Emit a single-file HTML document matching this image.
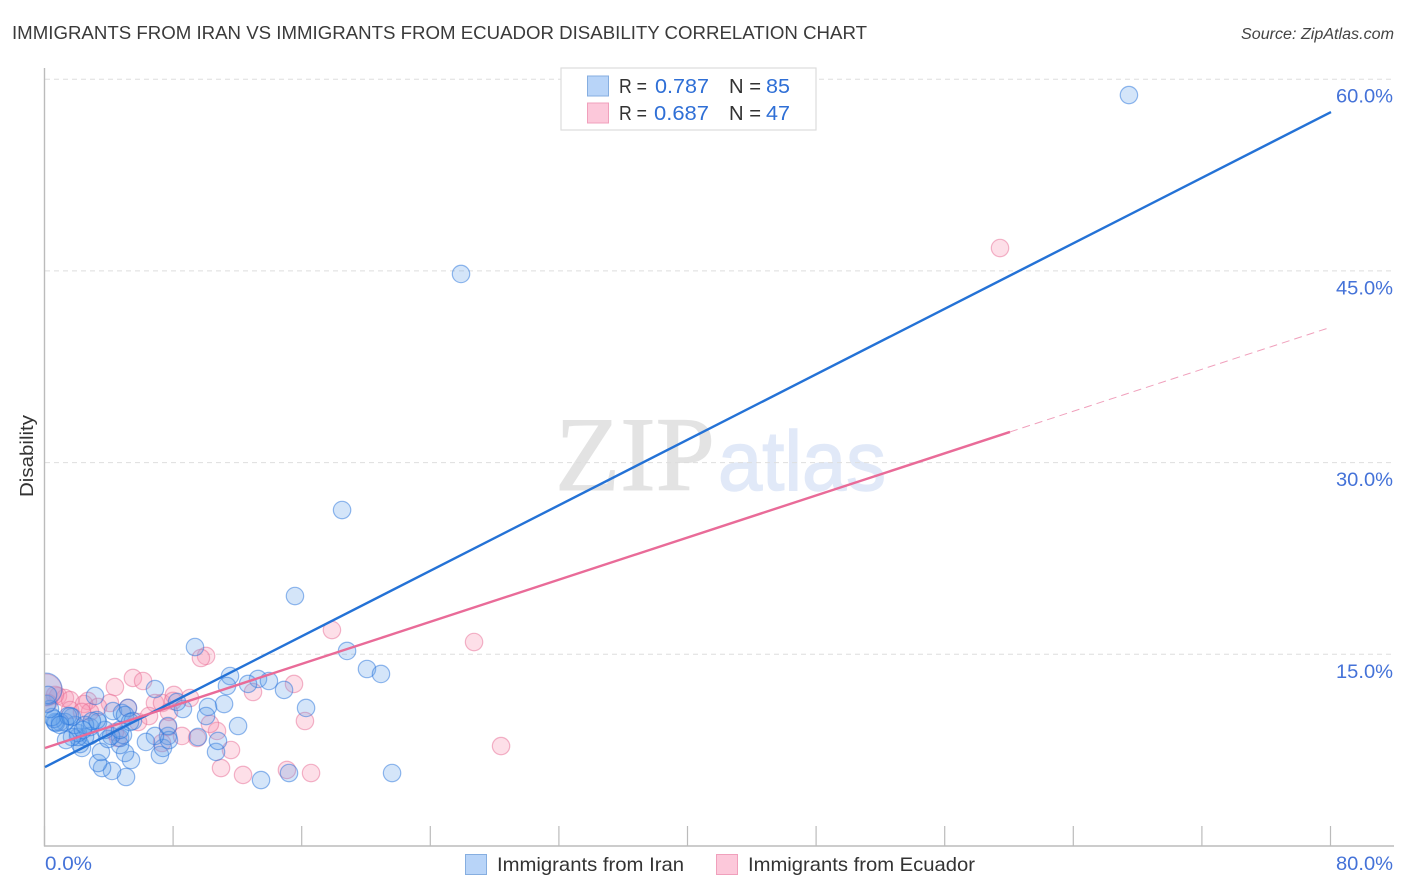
<!DOCTYPE html>
<html>
<head>
<meta charset="utf-8">
<title>Immigrants from Iran vs Immigrants from Ecuador Disability Correlation Chart</title>
<style>
html,body{margin:0;padding:0;background:#fff;width:1406px;height:892px;overflow:hidden}
svg{display:block;font-family:"Liberation Sans",sans-serif}
</style>
</head>
<body>
<svg id="chart" width="1406" height="892" viewBox="0 0 1406 892" xmlns="http://www.w3.org/2000/svg">
  <text x="12" y="39" font-size="18.5" fill="#3a3a3a" textLength="855" lengthAdjust="spacingAndGlyphs">IMMIGRANTS FROM IRAN VS IMMIGRANTS FROM ECUADOR DISABILITY CORRELATION CHART</text>
  <text x="1394" y="39" font-size="15.5" font-style="italic" fill="#444" text-anchor="end" textLength="153" lengthAdjust="spacingAndGlyphs">Source: ZipAtlas.com</text>
  <g>
    <text x="555" y="490" font-family="'Liberation Serif',serif" font-size="106" fill="#e3e3e3" stroke="#e3e3e3" stroke-width="1" textLength="160" lengthAdjust="spacingAndGlyphs">ZIP</text>
    <text x="718" y="490" font-size="84" fill="#e1e9f8" stroke="#e1e9f8" stroke-width="1.5" textLength="168" lengthAdjust="spacingAndGlyphs">atlas</text>
  </g>
  <g id="grid"></g>
  <g id="points"></g>
  <rect x="0" y="60" width="44.5" height="786" fill="#fff"/>
  <g id="axes"></g>
  <g id="trends"></g>
  <g id="ylabels"></g>
  <text transform="translate(33,456) rotate(-90)" font-size="18" fill="#333" text-anchor="middle" textLength="82" lengthAdjust="spacingAndGlyphs">Disability</text>
  <text x="45" y="870" font-size="19" fill="#4472d8" textLength="47" lengthAdjust="spacingAndGlyphs">0.0%</text>
  <text x="1393" y="870" font-size="19" fill="#4472d8" text-anchor="end" textLength="57" lengthAdjust="spacingAndGlyphs">80.0%</text>

  <g>
    <rect x="561" y="68" width="255" height="62" fill="#fff" stroke="#ddd" stroke-width="1.2"/>
    <rect x="587.5" y="76" width="21" height="20" fill="#b8d4f8" stroke="#86aee0"/>
    <rect x="587.5" y="103" width="21" height="20" fill="#fcc8da" stroke="#f0a0bc"/>
    <text x="619" y="93" font-size="20" fill="#333" textLength="28" lengthAdjust="spacingAndGlyphs">R =</text>
    <text x="655" y="93" font-size="20.5" fill="#2f6fd6" textLength="54" lengthAdjust="spacingAndGlyphs">0.787</text>
    <text x="729" y="93" font-size="20" fill="#333" textLength="32" lengthAdjust="spacingAndGlyphs">N =</text>
    <text x="766" y="93" font-size="20.5" fill="#2f6fd6" textLength="24" lengthAdjust="spacingAndGlyphs">85</text>
    <text x="619" y="120" font-size="20" fill="#333" textLength="28" lengthAdjust="spacingAndGlyphs">R =</text>
    <text x="654" y="120" font-size="20.5" fill="#2f6fd6" textLength="55" lengthAdjust="spacingAndGlyphs">0.687</text>
    <text x="729" y="120" font-size="20" fill="#333" textLength="32" lengthAdjust="spacingAndGlyphs">N =</text>
    <text x="766" y="120" font-size="20.5" fill="#2f6fd6" textLength="24" lengthAdjust="spacingAndGlyphs">47</text>
  </g>

  <g>
    <rect x="465.5" y="854.5" width="21" height="20" fill="#b8d4f8" stroke="#86aee0"/>
    <text x="497" y="871" font-size="19.5" fill="#333" textLength="187" lengthAdjust="spacingAndGlyphs">Immigrants from Iran</text>
    <rect x="716.5" y="854.5" width="21" height="20" fill="#fcc8da" stroke="#f0a0bc"/>
    <text x="748" y="871" font-size="19.5" fill="#333" textLength="227" lengthAdjust="spacingAndGlyphs">Immigrants from Ecuador</text>
  </g>
</svg>
<script>
// Data (x and y in percent)
const iranX = [67.43,25.88,18.48,15.55,9.33,18.79,20.03,20.90,11.51,13.25,13.93,11.32,12.63,14.87,6.84,16.24,3.11,8.58,8.21,11.14,10.14,10.02,12.01,21.59,13.44,15.18,5.04,4.17,3.55,3.30,5.35,4.98,3.48,2.30,2.18,7.15,7.34,10.64,10.76,9.52,7.65,7.71,6.84,6.28,7.65,4.67,4.67,4.85,3.92,4.11,3.73,4.67,2.80,2.49,2.05,2.05,1.68,1.31,2.80,1.87,3.30,1.68,4.23,4.79,5.16,4.98,5.47,5.29,3.23,2.49,1.24,0.93,0.68,0.62,0.56,0.44,1.43,1.56,0.31,0.12,0.06,0.19,0.93,2.92,2.36];
const iranY = [58.76,44.76,26.29,19.56,15.57,15.26,13.85,13.46,13.30,13.07,12.91,12.52,12.68,12.21,12.28,10.80,11.74,10.72,11.27,11.11,10.88,10.17,9.39,5.71,5.16,5.71,5.40,5.87,6.10,6.49,6.73,7.28,7.36,7.67,7.98,7.12,7.67,7.36,8.22,8.53,8.61,8.29,8.61,8.14,9.39,7.90,8.45,8.69,8.37,8.61,9.08,9.08,8.61,8.53,8.53,8.84,8.53,8.29,9.31,9.47,9.70,10.09,10.56,10.41,10.80,10.25,9.78,9.70,9.86,9.47,9.70,9.70,9.62,9.70,9.94,10.09,10.17,10.17,10.72,11.11,12.28,11.82,9.47,9.78,9.08];
const ecuadorX = [59.41,26.69,17.85,10.02,9.70,5.47,6.10,4.35,0.81,1.24,1.56,0.62,0.19,0.06,2.67,2.43,4.04,3.30,1.56,2.80,5.16,6.84,7.28,8.02,9.02,7.96,6.47,5.79,7.71,7.65,2.30,15.49,12.94,16.17,28.37,11.57,10.95,12.32,15.05,16.55,10.70,10.26,9.46,8.52,7.28,4.54,4.35];
const ecuadorY = [46.79,15.96,16.90,14.87,14.71,13.15,12.91,12.44,11.74,11.58,11.42,11.82,11.19,12.21,11.35,11.11,11.19,10.88,10.64,10.49,10.80,11.19,11.19,11.82,11.58,11.35,10.17,9.70,10.49,9.31,10.49,12.68,12.05,9.78,7.82,7.51,6.10,5.56,5.95,5.71,9.00,9.55,8.45,8.61,8.06,8.45,8.92];
const iranLargeIndex = [80];
const ecuadorLargeIndex = [13];
const iranTrendX = [0,80];
const iranTrendY = [6.18,57.43];
const ecuadorTrendX = [0,60.03];
const ecuadorTrendY = [7.67,32.4];
const ecuadorForecastX = [60.03,80];
const ecuadorForecastY = [32.4,40.6];
const yTickValues = [15,30,45,60];
const yTickLabels = ['15.0%','30.0%','45.0%','60.0%'];
const xTickValues = [0,8,16,24,32,40,48,56,64,72,80];

// Axis functions
const NS = 'http://www.w3.org/2000/svg';
function sx(v){ return 45 + v * (1286 / 80); }
function sy(v){ return 846 - v * 12.78; }
function mk(tag, parentId, attrs){
  const el = document.createElementNS(NS, tag);
  for (const k in attrs) el.setAttribute(k, attrs[k]);
  document.getElementById(parentId).appendChild(el);
  return el;
}

// Gridlines and y labels
yTickValues.forEach(function(v, i){
  const g = mk('line', 'grid', {x1:45, x2:1394, y1:sy(v), y2:sy(v), stroke:'#dedede', 'stroke-width':1, 'stroke-dasharray':'5 4'});
  
  
  const t = mk('text', 'ylabels', {x:1393, y:sy(v)+23.5, 'font-size':19, fill:'#4472d8', 'text-anchor':'end', textLength:57, lengthAdjust:'spacingAndGlyphs'});
  t.textContent = yTickLabels[i];
  
  
});

// Axes and ticks
const yAxis = mk('line', 'axes', {x1:44.5, x2:44.5, y1:68, y2:846.5, stroke:'#bbb', 'stroke-width':1.4});


const xAxis = mk('line', 'axes', {x1:44, x2:1394, y1:846, y2:846, stroke:'#bbb', 'stroke-width':1.4});


xTickValues.forEach(function(v){
  const t = mk('line', 'axes', {x1:sx(v)-0.5, x2:sx(v)-0.5, y1:826, y2:846, stroke:'#bbb', 'stroke-width':1.2});
  
  
});

// Points
function drawSeries(xs, ys, large, fill, stroke, name){
  xs.forEach(function(x, i){
    const r = large.indexOf(i) >= 0 ? 16 : 8.7;
    const c = mk('circle', 'points', {cx:sx(x), cy:sy(ys[i]), r:r, fill:fill, stroke:stroke, 'stroke-width':1.2});
    
    
  });
}
drawSeries(ecuadorX, ecuadorY, ecuadorLargeIndex, 'rgba(248,150,180,0.3)', 'rgba(232,110,150,0.5)', 'point-ecuador');
drawSeries(iranX, iranY, iranLargeIndex, 'rgba(100,160,235,0.28)', 'rgba(40,115,220,0.5)', 'point-iran');

// Trend lines
const t1 = mk('line', 'trends', {x1:sx(iranTrendX[0]), y1:sy(iranTrendY[0]), x2:sx(iranTrendX[1]), y2:sy(iranTrendY[1]), stroke:'#2472d6', 'stroke-width':2.4});


const t2 = mk('line', 'trends', {x1:sx(ecuadorTrendX[0]), y1:sy(ecuadorTrendY[0]), x2:sx(ecuadorTrendX[1]), y2:sy(ecuadorTrendY[1]), stroke:'#e96b98', 'stroke-width':2.4});


const t3 = mk('line', 'trends', {x1:sx(ecuadorForecastX[0]), y1:sy(ecuadorForecastY[0]), x2:sx(ecuadorForecastX[1]), y2:sy(ecuadorForecastY[1]), stroke:'#f0a0bc', 'stroke-width':1, 'stroke-dasharray':'8 5'});


</script>
</body>
</html>
